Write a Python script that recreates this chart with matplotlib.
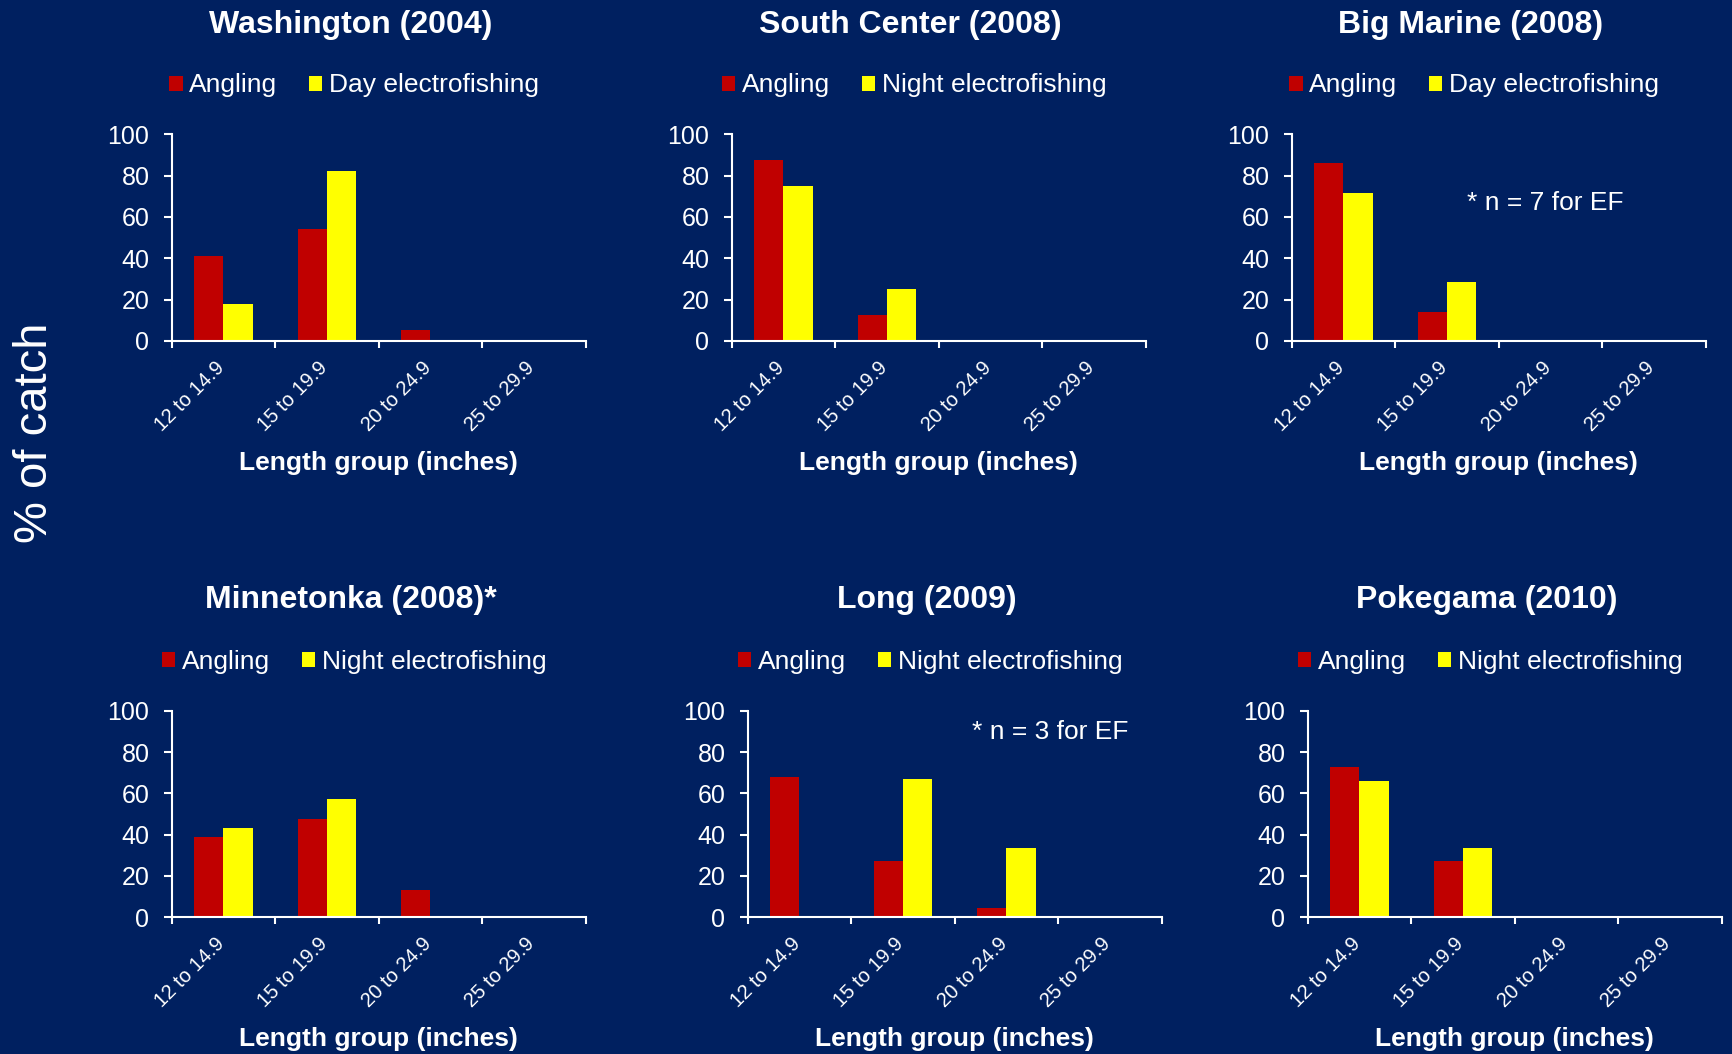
import matplotlib
matplotlib.use("Agg")
import matplotlib.pyplot as plt
from matplotlib.patches import Patch
from matplotlib.transforms import ScaledTranslation
import numpy as np

plt.rcParams['font.family'] = ['Liberation Sans', 'DejaVu Sans']

# ---------------- data ----------------
length_groups = ["12 to 14.9", "15 to 19.9", "20 to 24.9", "25 to 29.9"]
lake_titles = ["Washington (2004)", "South Center (2008)", "Big Marine (2008)",
               "Minnetonka (2008)*", "Long (2009)", "Pokegama (2010)"]
ef_labels = ["Day electrofishing", "Night electrofishing", "Day electrofishing",
             "Night electrofishing", "Night electrofishing", "Night electrofishing"]

washington_angling = [41, 54, 5, 0]
washington_ef = [18, 82, 0, 0]
south_center_angling = [87.5, 12.5, 0, 0]
south_center_ef = [75, 25, 0, 0]
big_marine_angling = [86, 14, 0, 0]
big_marine_ef = [71.4, 28.6, 0, 0]
minnetonka_angling = [39, 47.5, 13, 0]
minnetonka_ef = [43, 57, 0, 0]
long_angling = [68, 27.3, 4.5, 0]
long_ef = [0, 66.7, 33.3, 0]
pokegama_angling = [72.7, 27.3, 0, 0]
pokegama_ef = [66, 33.7, 0.3, 0]

angling_series = [washington_angling, south_center_angling, big_marine_angling,
                  minnetonka_angling, long_angling, pokegama_angling]
ef_series = [washington_ef, south_center_ef, big_marine_ef,
             minnetonka_ef, long_ef, pokegama_ef]
notes = {2: "* n = 7 for EF", 4: "* n = 3 for EF"}

# ---------------- style ----------------
BG = "#002060"
RED = "#C00000"
YEL = "#FFFF00"
W, H = 1732, 1054
fig = plt.figure(figsize=(W / 100, H / 100), dpi=100, facecolor=BG)

def fx(px):
    return px / W

def fy(py):
    return 1 - py / H

# panel layout in pixels (left, top)
ax_w, ax_h = 414, 206.5
lefts = [171.7, 731.7, 1291.7, 171.7, 747.7, 1307.7]
tops = [134.3, 134.3, 134.3, 710.7, 710.7, 710.7]
row_off = [0, 0, 0, 576.4, 576.4, 576.4]
title_off = [0, 0, 0, 574.5, 574.5, 574.5]
note_pos = {2: (0.4234, 0.669), 4: (0.541, 0.898)}

bw = 0.284
x = np.arange(len(length_groups))

for i in range(6):
    L, T, off = lefts[i], tops[i], row_off[i]
    ax = fig.add_axes([fx(L), fy(T + ax_h), ax_w / W, ax_h / H])
    ax.set_facecolor(BG)
    ax.bar(x - bw / 2, angling_series[i], width=bw, color=RED, linewidth=0)
    ax.bar(x + bw / 2, ef_series[i], width=bw, color=YEL, linewidth=0)
    ax.set_xlim(-0.5, 3.5)
    ax.set_ylim(0, 100)
    ax.set_yticks([0, 20, 40, 60, 80, 100])
    for s in ["top", "right"]:
        ax.spines[s].set_visible(False)
    for s in ["left", "bottom"]:
        ax.spines[s].set_color("white")
        ax.spines[s].set_linewidth(1.5)
    ax.tick_params(axis="y", colors="white", labelsize=18, length=6, width=1.5, pad=10)
    ax.set_xticks(x)
    ax.set_xticks(np.arange(-0.5, 4.0, 1.0), minor=True)
    ax.tick_params(axis="x", which="major", length=0, pad=17, colors="white", labelsize=14.5)
    ax.tick_params(axis="x", which="minor", length=4.8, width=1.5, color="white", direction="out")
    ax.set_xticklabels(length_groups, rotation=45, ha="right", va="center",
                       rotation_mode="anchor", color="white")
    for lab in ax.get_xticklabels():
        lab.set_transform(lab.get_transform() + ScaledTranslation(-0.022, 0, fig.dpi_scale_trans))

    cx = L + ax_w / 2
    fig.text(fx(cx - 28), fy(33.3 + title_off[i]), lake_titles[i], ha="center", va="baseline",
             fontsize=23, fontweight="bold", color="white")
    handles = [Patch(facecolor=RED, edgecolor="none", label="Angling"),
               Patch(facecolor=YEL, edgecolor="none", label=ef_labels[i])]
    ax.legend(handles=handles, loc="center", bbox_to_anchor=(fx(cx - 24.7), fy(85.5 + off)),
              bbox_transform=fig.transFigure, ncol=2, frameon=False, fontsize=19,
              handlelength=0.51, handleheight=0.51, handletextpad=0.25,
              columnspacing=1.2, borderpad=0, labelcolor="white")
    fig.text(fx(cx), fy(T + ax_h + 122), "Length group (inches)", ha="center", va="center",
             fontsize=19, fontweight="bold", color="white")
    if i in notes:
        nx, ny = note_pos[i]
        ax.text(nx, ny, notes[i], transform=ax.transAxes, ha="left", va="center",
                fontsize=19, color="white")

fig.text(fx(35), fy(433), "% of catch", rotation=90, ha="center", va="center",
         fontsize=34, color="white")

fig.savefig("out.png", dpi=100, facecolor=BG)
